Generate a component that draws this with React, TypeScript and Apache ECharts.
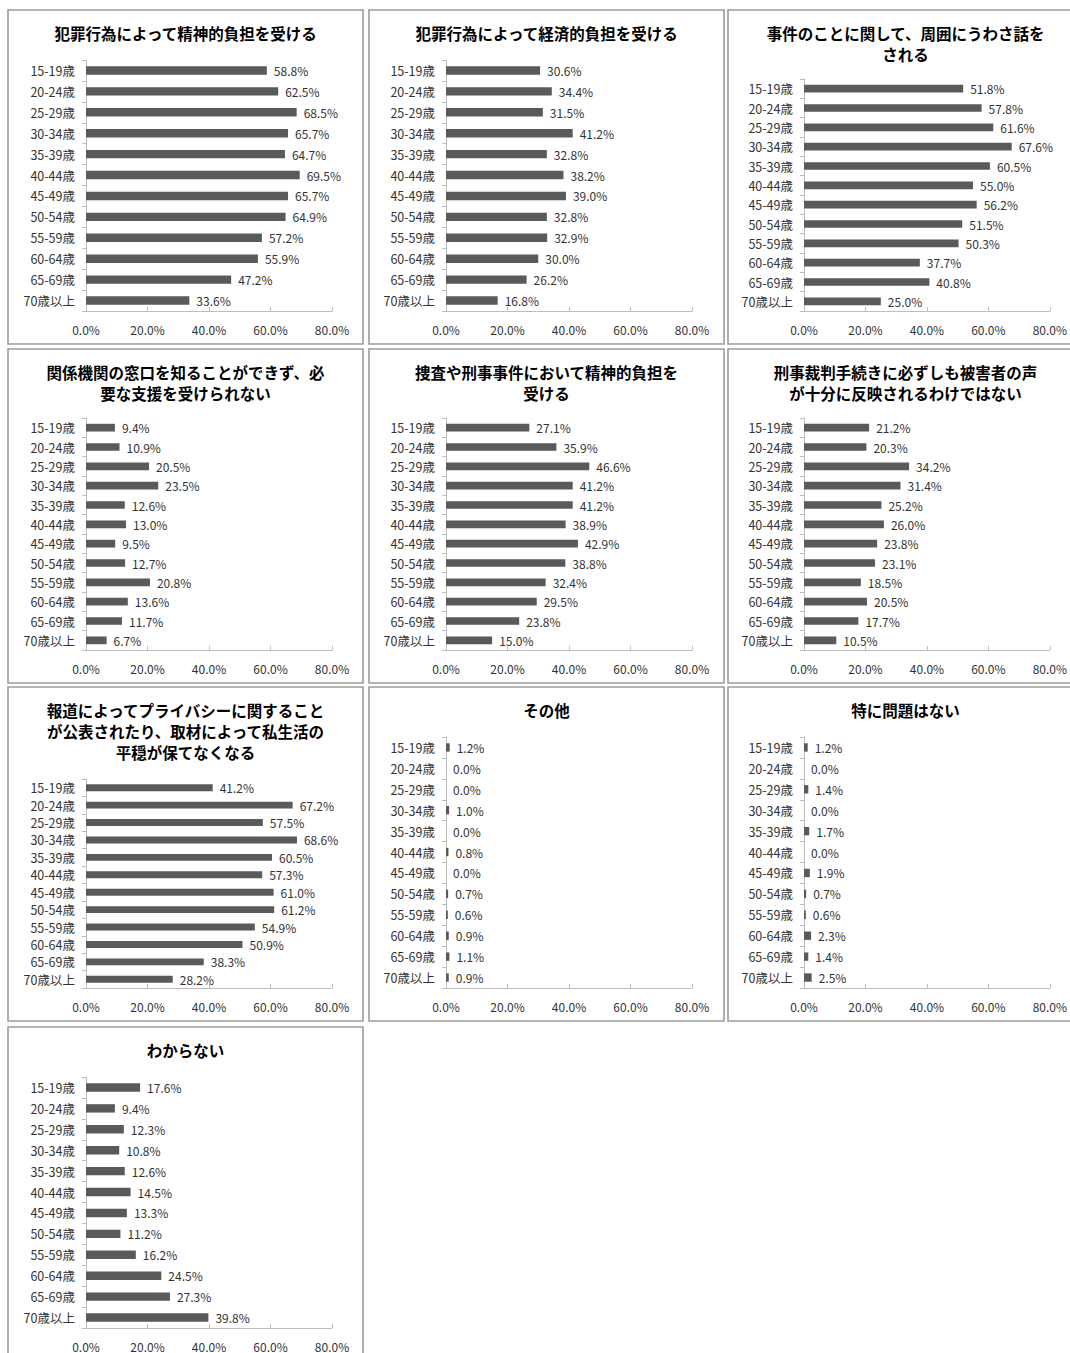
import React, { useEffect, useRef } from "react";
import * as echarts from "echarts";

const ages = ["15-19歳", "20-24歳", "25-29歳", "30-34歳", "35-39歳", "40-44歳", "45-49歳", "50-54歳", "55-59歳", "60-64歳", "65-69歳", "70歳以上"];

const titles = [
  "犯罪行為によって精神的負担を受ける",
  "犯罪行為によって経済的負担を受ける",
  "事件のことに関して、周囲にうわさ話を\nされる",
  "関係機関の窓口を知ることができず、必\n要な支援を受けられない",
  "捜査や刑事事件において精神的負担を\n受ける",
  "刑事裁判手続きに必ずしも被害者の声\nが十分に反映されるわけではない",
  "報道によってプライバシーに関すること\nが公表されたり、取材によって私生活の\n平穏が保てなくなる",
  "その他",
  "特に問題はない",
  "わからない",
];

const seriesMental = [58.8, 62.5, 68.5, 65.7, 64.7, 69.5, 65.7, 64.9, 57.2, 55.9, 47.2, 33.6];
const seriesEconomic = [30.6, 34.4, 31.5, 41.2, 32.8, 38.2, 39.0, 32.8, 32.9, 30.0, 26.2, 16.8];
const seriesRumor = [51.8, 57.8, 61.6, 67.6, 60.5, 55.0, 56.2, 51.5, 50.3, 37.7, 40.8, 25.0];
const seriesNoSupport = [9.4, 10.9, 20.5, 23.5, 12.6, 13.0, 9.5, 12.7, 20.8, 13.6, 11.7, 6.7];
const seriesInvestigation = [27.1, 35.9, 46.6, 41.2, 41.2, 38.9, 42.9, 38.8, 32.4, 29.5, 23.8, 15.0];
const seriesTrial = [21.2, 20.3, 34.2, 31.4, 25.2, 26.0, 23.8, 23.1, 18.5, 20.5, 17.7, 10.5];
const seriesPress = [41.2, 67.2, 57.5, 68.6, 60.5, 57.3, 61.0, 61.2, 54.9, 50.9, 38.3, 28.2];
const seriesOther = [1.2, 0.0, 0.0, 1.0, 0.0, 0.8, 0.0, 0.7, 0.6, 0.9, 1.1, 0.9];
const seriesNoProblem = [1.2, 0.0, 1.4, 0.0, 1.7, 0.0, 1.9, 0.7, 0.6, 2.3, 1.4, 2.5];
const seriesUnknown = [17.6, 9.4, 12.3, 10.8, 12.6, 14.5, 13.3, 11.2, 16.2, 24.5, 27.3, 39.8];

const allSeries = [
  seriesMental, seriesEconomic, seriesRumor, seriesNoSupport, seriesInvestigation,
  seriesTrial, seriesPress, seriesOther, seriesNoProblem, seriesUnknown,
];

const xTicks = [0, 20, 40, 60, 80];

const FONT = "'Noto Sans CJK JP', 'Noto Sans', sans-serif";

export default function App() {
  const ref = useRef<HTMLDivElement>(null);
  useEffect(() => {
    if (!ref.current) return;
    const chart = echarts.init(ref.current, undefined, { renderer: "svg" });
    const panelLeft = [8, 369, 728];
    const panelTop = [10, 349, 687, 1027];
    const panelW = 355;
    const panelH = 334;
    const axisLeft = [86, 446, 804];

    const grids: any[] = [];
    const xAxes: any[] = [];
    const yAxes: any[] = [];
    const series: any[] = [];
    const titleComps: any[] = [];
    const graphics: any[] = [];

    allSeries.forEach((vals, i) => {
      const col = i % 3;
      const row = Math.floor(i / 3);
      const L = panelLeft[col];
      const T = panelTop[row];
      const lines = titles[i].split("\n").length;
      const gTop = lines === 1 ? T + 50 : lines === 2 ? T + 69 : T + 92;
      graphics.push({
        type: "rect",
        shape: { x: L, y: T, width: panelW, height: panelH },
        style: { fill: "#fff", stroke: "#9c9c9c", lineWidth: 1.6 },
        z: -10,
      });
      titleComps.push({
        text: titles[i],
        left: L + panelW / 2,
        top: T + 12,
        textAlign: "center",
        padding: 0,
        textStyle: { fontFamily: FONT, fontSize: 15.5, fontWeight: "bold", color: "#000", lineHeight: 21 },
      });
      grids.push({ left: axisLeft[col], top: gTop, width: 246, height: T + 301 - gTop, containLabel: false });
      xAxes.push({
        type: "value",
        gridIndex: i,
        min: xTicks[0],
        max: xTicks[xTicks.length - 1],
        interval: 20,
        axisLine: { show: true, lineStyle: { color: "#bdbdbd", width: 1 } },
        axisTick: { show: true, inside: true, length: 4, lineStyle: { color: "#bdbdbd" } },
        splitLine: { show: false },
        axisLabel: {
          margin: 12,
          fontFamily: FONT,
          fontSize: 12,
          color: "#333",
          formatter: (v: number) => v.toFixed(1) + "%",
        },
      });
      yAxes.push({
        type: "category",
        gridIndex: i,
        data: ages,
        inverse: true,
        axisLine: { show: true, lineStyle: { color: "#bdbdbd", width: 1 } },
        axisTick: { show: true, length: 4, lineStyle: { color: "#bdbdbd" } },
        axisLabel: { margin: 11, fontFamily: FONT, fontSize: 12.5, color: "#333" },
      });
      series.push({
        type: "bar",
        xAxisIndex: i,
        yAxisIndex: i,
        data: vals,
        barWidth: "40%",
        itemStyle: { color: "#5a5a5a" },
        label: {
          show: true,
          position: "right",
          distance: 7,
          fontFamily: FONT,
          fontSize: 12,
          color: "#333",
          formatter: (p: any) => Number(p.value).toFixed(1) + "%",
        },
      });
    });

    chart.setOption({
      animation: false,
      backgroundColor: "#fff",
      title: titleComps,
      grid: grids,
      xAxis: xAxes,
      yAxis: yAxes,
      series,
      graphic: graphics,
    });
    return () => chart.dispose();
  }, []);
  return <div ref={ref} style={{ position: "absolute", left: 0, top: 0, width: 1070, height: 1353 }} />;
}
